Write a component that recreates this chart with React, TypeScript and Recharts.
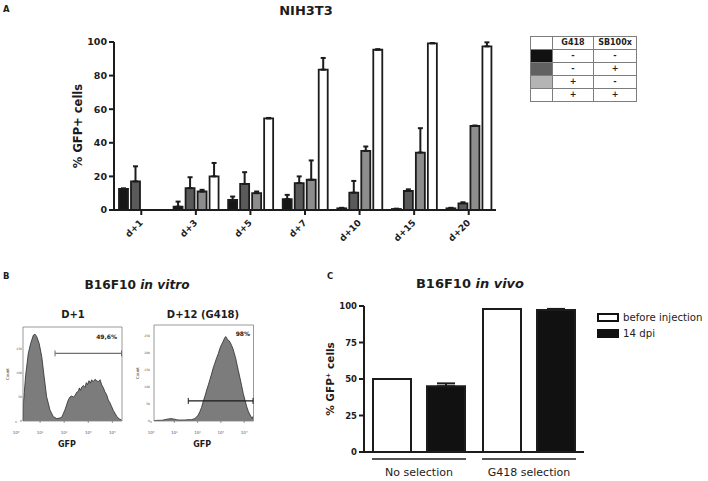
import React from 'react';
import {
  BarChart, Bar, XAxis, YAxis, ErrorBar, Legend,
  AreaChart, Area, ReferenceArea, ReferenceLine,
} from 'recharts';

const FONT = '"DejaVu Sans", Verdana, sans-serif';
const INK = '#1c1c1c';

// ---------------- Panel A : NIH3T3 ----------------
const daysA = ['d+1', 'd+3', 'd+5', 'd+7', 'd+10', 'd+15', 'd+20'];
const ctrlVals = [12.5, 2, 6, 6.5, 1, 0.6, 1];
const ctrlErr = [0.4, 3, 2, 2.5, 0.3, 0.2, 0.3];
const sbVals = [17, 13, 15.5, 16, 10.3, 11.3, 4];
const sbErr = [9, 6.5, 7, 4, 7, 1, 0.6];
const g418Vals = [null, 11, 10, 18, 35.2, 34.2, 50];
const g418Err = [null, 1, 1, 11.5, 2.6, 14.5, 0.3];
const bothVals = [null, 20, 54.5, 83.5, 95.4, 99.2, 97.4];
const bothErr = [null, 8, 0.3, 7, 0.3, 0.2, 2.4];
const yTicksA = [0, 20, 40, 60, 80, 100];
const seriesKeysA = ['ctrl', 'sb', 'g418', 'both'];
const tableHeaders = ['G418', 'SB100x'];
const g418Flags = ['-', '-', '+', '+'];
const sbFlags = ['-', '+', '-', '+'];

// ---------------- Panel B : B16F10 in vitro ----------------
const d1Log = [0.3, 0.31, 0.4, 0.51, 0.61, 0.72, 0.79, 0.86, 0.96, 1.07, 1.17, 1.27, 1.41, 1.55, 1.69, 1.8, 1.9, 2.03, 2.17, 2.24, 2.31, 2.38, 2.45, 2.52, 2.59, 2.63, 2.68, 2.73, 2.8, 2.86, 2.92, 2.97, 3.03, 3.09, 3.14, 3.2, 3.28, 3.35, 3.42, 3.49, 3.56, 3.62, 3.69, 3.76, 3.83, 3.9, 3.97, 4.04, 4.11, 4.18, 4.24, 4.3, 4.38];
const d1Count = [0, 38, 95, 141, 162, 179, 181, 176, 162, 134, 92, 51, 23, 9, 5, 6, 8, 23, 44, 50, 52, 50, 53, 60, 62, 69, 64, 71, 74, 70, 80, 76, 84, 79, 86, 82, 87, 84, 82, 86, 75, 70, 61, 55, 44, 38, 30, 22, 16, 10, 6, 4, 2];
const d12Log = [0.13, 0.3, 0.46, 0.6, 0.74, 0.85, 0.96, 1.1, 1.17, 1.3, 1.46, 1.6, 1.75, 1.87, 1.96, 2.03, 2.1, 2.17, 2.24, 2.32, 2.39, 2.46, 2.53, 2.6, 2.67, 2.74, 2.82, 2.89, 2.96, 3.03, 3.1, 3.16, 3.21, 3.26, 3.32, 3.39, 3.46, 3.52, 3.57, 3.63, 3.68, 3.75, 3.82, 3.89, 3.96, 4.04, 4.11, 4.18, 4.25, 4.3, 4.35, 4.38];
const d12Count = [1, 2, 2, 4, 6, 7, 6, 4, 3, 3, 3, 4, 4, 7, 12, 18, 28, 40, 57, 74, 91, 106, 122, 138, 156, 170, 186, 198, 214, 225, 234, 244, 248, 242, 238, 232, 222, 212, 200, 186, 170, 148, 126, 104, 81, 60, 42, 28, 18, 12, 7, 14];
const histTicks = [0, 1, 2, 3, 4];
const histTickLabels = ['10\u2070', '10\u00B9', '10\u00B2', '10\u00B3', '10\u2074'];
const d1YTicks = [0, 50, 100, 150];
const d12YTicks = [0, 50, 100, 150, 200, 250];
const d1Gate = { from: 1.62, to: 4.38, level: 141, label: '49,6%' };
const d12Gate = { from: 1.6, to: 4.38, level: 59, label: '98%' };

// ---------------- Panel C : B16F10 in vivo ----------------
const groupsC = ['No selection', 'G418 selection'];
const beforeVals = [50, 98];
const dpiVals = [45, 97.3];
const dpiErr = [2, 0.7];
const yTicksC = [0, 25, 50, 75, 100];
const seriesNamesC = ['before injection', '14 dpi'];

// ---------------- styles ----------------
const barFillA: Record<string, string> = { ctrl: '#161616', sb: '#5a5a5a', g418: '#8d8d8d', both: '#ffffff' };
const tableFillA: Record<string, string> = { ctrl: '#111111', sb: '#616161', g418: '#b4b4b4', both: '#ffffff' };
const fillC = ['#ffffff', '#111111'];

// ---------------- derived tables ----------------
const valsA: Record<string, (number | null)[]> = { ctrl: ctrlVals, sb: sbVals, g418: g418Vals, both: bothVals };
const errsA: Record<string, (number | null)[]> = { ctrl: ctrlErr, sb: sbErr, g418: g418Err, both: bothErr };
const dataA = daysA.map((day, i) => {
  const row: any = { day };
  seriesKeysA.forEach((k) => {
    row[k] = valsA[k][i];
    const e = errsA[k][i];
    row[k + 'Err'] = e == null ? null : [0, e];
  });
  return row;
});
const d1Data = d1Log.map((x, i) => ({ x, count: d1Count[i] }));
const d12Data = d12Log.map((x, i) => ({ x, count: d12Count[i] }));
const dataC = groupsC.map((group, i) => ({
  group,
  before: beforeVals[i],
  dpi14: dpiVals[i],
  dpi14Err: [0, dpiErr[i]],
}));

// ---------------- custom pieces ----------------
const RotTick = (props: any) => {
  const { x, y, payload } = props;
  return (
    <g transform={`translate(${x},${y})`}>
      <text x={-3} y={6} transform="rotate(-45)" textAnchor="end" fontSize={9} fontWeight="bold" fill={INK} fontFamily={FONT}>
        {payload.value}
      </text>
    </g>
  );
};

const cellStyle = (w: number, extra: any = {}) => ({
  width: w, minWidth: w, maxWidth: w, height: 12, padding: 0, border: '1px solid #7d7d7d',
  textAlign: 'center' as const, lineHeight: '12px', ...extra,
});

const TableLegend = () => (
  <table style={{ borderCollapse: 'collapse', fontFamily: FONT, fontSize: 8, fontWeight: 'bold', color: '#222', tableLayout: 'fixed' }}>
    <tbody>
      <tr>
        <td style={cellStyle(21)} />
        <td style={cellStyle(40)}>{tableHeaders[0]}</td>
        <td style={cellStyle(42)}>{tableHeaders[1]}</td>
      </tr>
      {seriesKeysA.map((k, i) => (
        <tr key={k}>
          <td style={cellStyle(21, { background: tableFillA[k] })} />
          <td style={cellStyle(40)}>{g418Flags[i]}</td>
          <td style={cellStyle(42)}>{sbFlags[i]}</td>
        </tr>
      ))}
    </tbody>
  </table>
);

const GroupTick = (props: any) => {
  const { x, y, payload } = props;
  return (
    <g>
      <line x1={x - 47} x2={x + 47} y1={y} y2={y} stroke={INK} strokeWidth={1.3} />
      <text x={x} y={y + 17} textAnchor="middle" fontSize={11} fill={INK} fontFamily={FONT}>
        {payload.value}
      </text>
    </g>
  );
};

const CLegend = () => (
  <div style={{ fontFamily: FONT, fontSize: 10.2, color: '#222' }}>
    {seriesNamesC.map((name, i) => (
      <div key={name} style={{ display: 'flex', alignItems: 'center', height: 16, whiteSpace: 'nowrap' }}>
        <span style={{ display: 'inline-block', width: 18, height: 5, border: '2px solid #111', background: fillC[i], marginRight: 4 }} />
        {name}
      </div>
    ))}
  </div>
);

const Hist = (p: any) => {
  const capH = (p.yMax * 3) / p.plotH;
  const g = p.gate;
  return (
    <div style={{ position: 'absolute', left: p.left, top: p.top }}>
      <AreaChart width={135} height={160} data={p.data} margin={p.margin}>
        <XAxis
          type="number" dataKey="x" domain={[0, 4.4]} ticks={histTicks} interval={0}
          tickFormatter={(v: number) => histTickLabels[v]} height={14} axisLine={false}
          tickSize={2} tickMargin={8} tickLine={{ stroke: '#555', strokeWidth: 0.6 }}
          tick={{ fontSize: 4, fill: '#555', fontFamily: FONT }} allowDataOverflow
          label={{ value: 'GFP', position: 'bottom', offset: 6, dx: p.gfpDx, fontSize: 8, fontWeight: 'bold', fill: INK, fontFamily: FONT }}
        />
        <YAxis
          type="number" domain={[0, p.yMax]} ticks={p.yTicks} interval={0} width={10}
          axisLine={false} tickLine={false} tickSize={0} tickMargin={p.yTickMargin}
          tick={{ fontSize: 3, fill: '#555', fontFamily: FONT }} allowDataOverflow
          label={{ value: 'Count', angle: -90, position: 'center', dx: p.countDx, fontSize: 4, fill: '#444', fontFamily: FONT }}
        />
        <Area type="linear" dataKey="count" stroke="#2b2b2b" strokeWidth={0.8} fill="#7c7c7c" fillOpacity={1} isAnimationActive={false} dot={false} activeDot={false} />
        <ReferenceArea x1={p.boxFrom} x2={4.4} y1={0} y2={p.yMax} fill="none" fillOpacity={0} stroke="#808080" strokeWidth={0.8} ifOverflow="visible" />
        <ReferenceLine segment={[{ x: g.from, y: g.level }, { x: g.to, y: g.level }]} stroke={p.gateColor} strokeWidth={1.2} ifOverflow="visible" />
        <ReferenceLine segment={[{ x: g.from, y: g.level - capH }, { x: g.from, y: g.level + capH }]} stroke={p.gateColor} strokeWidth={1} ifOverflow="visible" />
        <ReferenceLine segment={[{ x: g.to, y: g.level - capH }, { x: g.to, y: g.level + capH }]} stroke={p.gateColor} strokeWidth={1} ifOverflow="visible" />
      </AreaChart>
    </div>
  );
};

export default function App() {
  return (
    <div style={{ position: 'absolute', left: 0, top: 0, width: 708, height: 481, background: '#fff', overflow: 'hidden', fontFamily: FONT }}>
      {/* titles & panel letters */}
      <svg width={708} height={481} style={{ position: 'absolute', left: 0, top: 0 }}>
        <g fontFamily={FONT} fontWeight="bold" fill={INK}>
          <text x={3} y={12} fontSize={8.5}>A</text>
          <text x={3} y={279} fontSize={8.5}>B</text>
          <text x={327} y={279} fontSize={8.5}>C</text>
          <text x={306} y={15} fontSize={13} textAnchor="middle">NIH3T3</text>
          <text x={137} y={289} fontSize={12.2} textAnchor="middle">B16F10 <tspan fontStyle="italic">in vitro</tspan></text>
          <text x={73} y={318} fontSize={10} textAnchor="middle">D+1</text>
          <text x={203} y={317.5} fontSize={10} textAnchor="middle">D+12 (G418)</text>
          <text x={117} y={338.5} fontSize={6} textAnchor="end">{d1Gate.label}</text>
          <text x={250} y={336} fontSize={6} textAnchor="end">{d12Gate.label}</text>
          <text x={470} y={288} fontSize={13} textAnchor="middle">B16F10 <tspan fontStyle="italic">in vivo</tspan></text>
        </g>
      </svg>

      {/* Panel A */}
      <div style={{ position: 'absolute', left: 0, top: 0 }}>
        <BarChart width={708} height={250} data={dataA} margin={{ top: 42, right: 212, bottom: 5, left: 42 }} barSize={9} barGap={3}>
          <XAxis
            dataKey="day" height={35} interval={0} tick={<RotTick />} tickSize={5} tickMargin={2}
            axisLine={{ stroke: INK, strokeWidth: 2 }} tickLine={{ stroke: INK, strokeWidth: 2 }}
          />
          <YAxis
            width={72} domain={[0, 100]} ticks={yTicksA} interval={0} tickSize={5} tickMargin={2}
            axisLine={{ stroke: INK, strokeWidth: 2 }} tickLine={{ stroke: INK, strokeWidth: 2 }}
            tick={{ fontSize: 9.5, fontWeight: 'bold', fill: INK, fontFamily: FONT }}
            label={{ value: '% GFP+ cells', angle: -90, position: 'center', fontSize: 11.5, fontWeight: 'bold', fill: INK, fontFamily: FONT }}
          />
          <Legend content={<TableLegend />} layout="horizontal" verticalAlign="middle" align="center" wrapperStyle={{ left: 530, top: 36, width: 110 }} />
          {seriesKeysA.map((k) => (
            <Bar key={k} dataKey={k} fill={barFillA[k]} stroke={INK} strokeWidth={1.8} isAnimationActive={false}>
              <ErrorBar dataKey={k + 'Err'} width={2.5} stroke={INK} strokeWidth={2} direction="y" />
            </Bar>
          ))}
        </BarChart>
      </div>

      {/* Panel B histograms */}
      <Hist left={0} top={300} data={d1Data} yMax={196} plotH={94} yTicks={d1YTicks} gate={d1Gate} gateColor="#707070"
        boxFrom={0.29} margin={{ top: 27, right: 13, bottom: 25, left: 6 }} yTickMargin={-6} countDx={-3} gfpDx={-2} />
      <Hist left={135} top={300} data={d12Data} yMax={282} plotH={96} yTicks={d12YTicks} gate={d12Gate} gateColor="#1a1a1a"
        boxFrom={0.13} margin={{ top: 25, right: 16.5, bottom: 25, left: 6 }} yTickMargin={1} countDx={-8} gfpDx={0} />

      {/* Panel C */}
      <div style={{ position: 'absolute', left: 280, top: 250 }}>
        <BarChart width={428} height={231} data={dataC} margin={{ top: 56, right: 124, bottom: 3, left: 16 }} barSize={38} barGap={16}>
          <XAxis dataKey="group" height={26} interval={0} tickSize={0} tickMargin={7} tick={<GroupTick />}
            axisLine={{ stroke: INK, strokeWidth: 2 }} tickLine={false} />
          <YAxis
            width={68} domain={[0, 100]} ticks={yTicksC} interval={0} tickSize={5} tickMargin={2}
            axisLine={{ stroke: INK, strokeWidth: 2 }} tickLine={{ stroke: INK, strokeWidth: 2 }}
            tick={{ fontSize: 8.5, fontWeight: 'bold', fill: INK, fontFamily: FONT }}
            label={{ value: '% GFP\u207A cells', angle: -90, position: 'center', fontSize: 10.5, fontWeight: 'bold', fill: INK, fontFamily: FONT }}
          />
          <Legend content={<CLegend />} layout="horizontal" verticalAlign="middle" align="center" wrapperStyle={{ left: 317, top: 59, width: 120 }} />
          <Bar dataKey="before" name={seriesNamesC[0]} fill={fillC[0]} stroke={INK} strokeWidth={2} isAnimationActive={false} />
          <Bar dataKey="dpi14" name={seriesNamesC[1]} fill={fillC[1]} stroke={INK} strokeWidth={2} isAnimationActive={false}>
            <ErrorBar dataKey="dpi14Err" width={9} stroke={INK} strokeWidth={2} direction="y" />
          </Bar>
        </BarChart>
      </div>
    </div>
  );
}
